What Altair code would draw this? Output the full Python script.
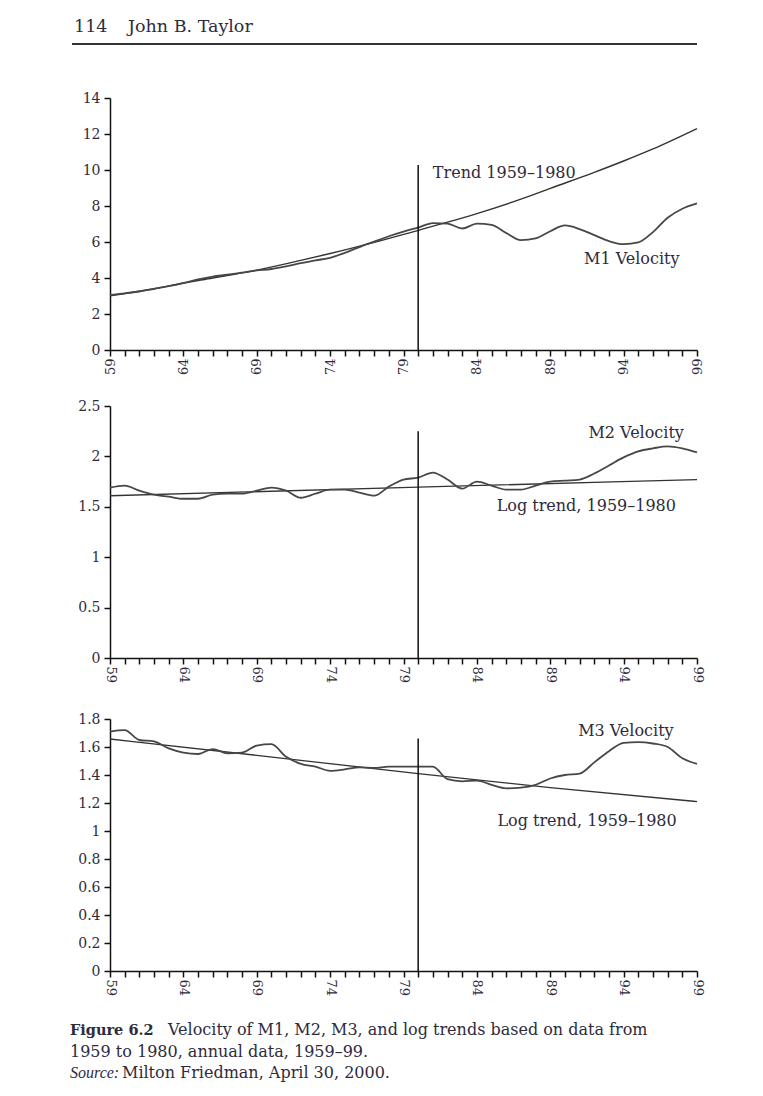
import altair as alt
import pandas as pd

# ---------------- data ----------------
years = list(range(59, 100))

m1_velocity = [3.05, 3.15, 3.25, 3.40, 3.55, 3.72, 3.92, 4.08, 4.18, 4.30,
               4.42, 4.50, 4.65, 4.82, 4.98, 5.12, 5.40, 5.72, 6.02, 6.32,
               6.58, 6.80, 7.05, 7.02, 6.75, 7.02, 6.95, 6.50, 6.10, 6.20,
               6.60, 6.92, 6.72, 6.38, 6.05, 5.88, 5.98, 6.55, 7.35, 7.85,
               8.15]
m1_trend_years = [59, 62, 64, 66, 69, 72, 74, 77, 80, 82, 84, 87, 89, 92, 94, 96, 99]
m1_trend = [3.01, 3.40, 3.72, 4.00, 4.44, 4.98, 5.36, 5.98, 6.65, 7.10, 7.58,
            8.38, 8.98, 9.87, 10.50, 11.17, 12.30]

m2_velocity = [1.69, 1.71, 1.66, 1.62, 1.60, 1.58, 1.58, 1.62, 1.63, 1.63,
               1.66, 1.69, 1.66, 1.59, 1.63, 1.67, 1.67, 1.64, 1.61, 1.70,
               1.77, 1.79, 1.84, 1.77, 1.68, 1.75, 1.71, 1.67, 1.67, 1.71,
               1.75, 1.76, 1.77, 1.83, 1.91, 1.99, 2.05, 2.08, 2.10, 2.08,
               2.04]
m2_trend_years = [59, 80, 99]
m2_trend = [1.61, 1.695, 1.77]

m3_velocity = [1.71, 1.72, 1.65, 1.64, 1.59, 1.56, 1.55, 1.585, 1.555, 1.56,
               1.61, 1.62, 1.53, 1.48, 1.46, 1.43, 1.44, 1.455, 1.45, 1.46,
               1.46, 1.46, 1.46, 1.37, 1.355, 1.36, 1.33, 1.305, 1.31, 1.33,
               1.375, 1.40, 1.41, 1.49, 1.57, 1.63, 1.635, 1.625, 1.60, 1.52,
               1.48]
m3_trend_years = [59, 69, 80, 89, 99]
m3_trend = [1.657, 1.54, 1.41, 1.31, 1.21]

rule_year = 80
rule_tops = [10.28, 2.25, 1.66]

y_ticks_1 = [0, 2, 4, 6, 8, 10, 12, 14]
y_ticks_2 = [0, 0.5, 1, 1.5, 2, 2.5]
y_ticks_3 = [0, 0.2, 0.4, 0.6, 0.8, 1, 1.2, 1.4, 1.6, 1.8]

labels_1 = ["Trend 1959\u20131980", "M1 Velocity"]
labels_1_x = [81.0, 91.3]
labels_1_y = [9.57, 4.8]
labels_2 = ["M2 Velocity", "Log trend, 1959\u20131980"]
labels_2_x = [91.6, 85.35]
labels_2_y = [2.185, 1.457]
labels_3 = ["M3 Velocity", "Log trend, 1959\u20131980"]
labels_3_x = [90.9, 85.4]
labels_3_y = [1.68, 1.037]

header_page = "114"
header_author = "John B. Taylor"
caption_fig = "Figure 6.2"
caption_line1 = "Velocity of M1, M2, M3, and log trends based on data from"
caption_line2 = "1959 to 1980, annual data, 1959\u201399."
caption_src = "Source:"
caption_line3 = "Milton Friedman, April 30, 2000."

# ---------------- styling ----------------
FONT = "DejaVu Serif"
INK = "#2e2b3d"
LINE = "#474747"
TREND = "#333333"
W = 587
H = 252


def one(text):
    return pd.DataFrame({"t": [text]})


def panel(vel, t_years, t_vals, ymax, yticks, rule_top, labs, labs_x, labs_y, label_angle):
    xs = alt.Scale(domain=[59, 99], nice=False, zero=False)
    ys = alt.Scale(domain=[0, ymax], nice=False, zero=True)
    x_axis = alt.Axis(values=years, labelExpr="datum.value % 5 == 4 ? datum.label : ''",
                      labelAngle=label_angle, title=None, labelFontSize=13,
                      labelOverlap=False, labelFlush=False)
    y_axis = alt.Axis(values=yticks, format="~g", title=None, labelFontSize=14,
                      minExtent=44, maxExtent=44, labelPadding=4, labelOverlap=False)
    X = alt.X("year:Q", scale=xs, axis=x_axis)
    Y = alt.Y("v:Q", scale=ys, axis=y_axis)

    vdf = pd.DataFrame({"year": years, "v": vel})
    tdf = pd.DataFrame({"year": t_years, "v": t_vals})
    rdf = pd.DataFrame({"year": [rule_year], "v": [rule_top], "v0": [0]})
    adf = pd.DataFrame({"year": labs_x, "v": labs_y, "t": labs})

    trend = alt.Chart(tdf).mark_line(color=TREND, strokeWidth=1.4, interpolate="monotone").encode(x=X, y=Y)
    velo = alt.Chart(vdf).mark_line(color=LINE, strokeWidth=1.8, interpolate="monotone").encode(x=X, y=Y)
    rule = alt.Chart(rdf).mark_rule(color="#111111", strokeWidth=1.5).encode(x=X, y=Y, y2="v0:Q")
    ann = alt.Chart(adf).mark_text(align="left", baseline="alphabetic", font=FONT,
                                   fontSize=16, color=INK).encode(x=X, y=Y, text="t:N")
    return [trend, velo, rule, ann]


def txt(text, x, y, size, weight="normal", style="normal", font=FONT):
    return alt.Chart(one(text)).mark_text(align="left", baseline="alphabetic", font=font,
                                          fontSize=size, fontWeight=weight, fontStyle=style,
                                          color=INK).encode(
        x=alt.value(x), y=alt.value(y), text="t:N")


# header (drawn above panel 1)
header = [
    txt(header_page, -36, -66, 17.5),
    txt(header_author, 18, -66, 17.5),
    alt.Chart(one("rule")).mark_rule(color="#333333", strokeWidth=2).encode(
        x=alt.value(-38), x2=alt.value(W), y=alt.value(-54)),
]

# caption (drawn below panel 3)
caption = [
    txt(caption_fig, -40, 316, 14.5, weight="bold"),
    txt(caption_line1, 58, 316, 16),
    txt(caption_line2, -40, 338, 16),
    txt(caption_src, -40, 359, 16, style="italic", font="Liberation Serif"),
    txt(caption_line3, 12, 359, 16),
]

p1 = alt.layer(*panel(m1_velocity, m1_trend_years, m1_trend, 14, y_ticks_1, rule_tops[0],
                      labels_1, labels_1_x, labels_1_y, 270), *header).properties(width=W, height=H)
p2 = alt.layer(*panel(m2_velocity, m2_trend_years, m2_trend, 2.5, y_ticks_2, rule_tops[1],
                      labels_2, labels_2_x, labels_2_y, 90)).properties(width=W, height=H)
p3 = alt.layer(*panel(m3_velocity, m3_trend_years, m3_trend, 1.8, y_ticks_3, rule_tops[2],
                      labels_3, labels_3_x, labels_3_y, 90), *caption).properties(width=W, height=H)

inner = alt.vconcat(p1, p2, spacing=24)
chart = alt.vconcat(inner, p3, spacing=29).properties(
    padding={"left": 58, "top": 10, "right": 5, "bottom": 5},
    background="white",
).configure_view(stroke=None).configure_axis(
    grid=False,
    domainColor="#111111", domainWidth=1.5,
    tickColor="#111111", tickWidth=1.5, tickSize=6,
    labelFont=FONT, labelColor=INK,
)

chart.save("out.html", embed_options={"renderer": "svg", "actions": False})
